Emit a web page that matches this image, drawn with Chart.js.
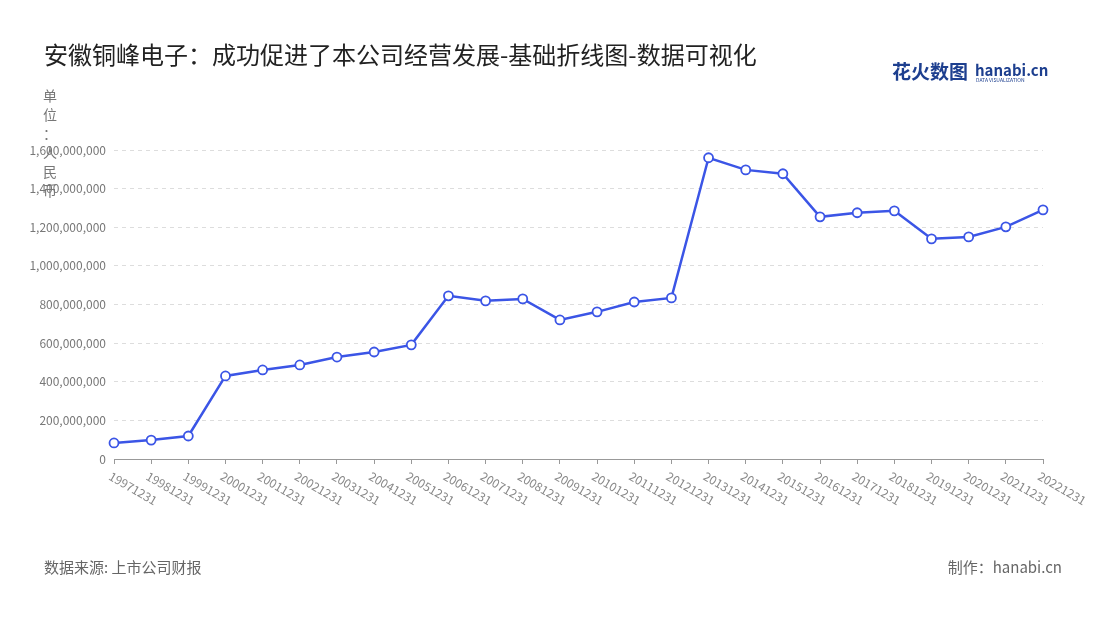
<!DOCTYPE html>
<html><head><meta charset="utf-8">
<script src="https://cdn.jsdelivr.net/npm/chart.js@4"></script>
<style>body{margin:0;background:#fff}#w{width:1100px;height:620px;position:relative}</style>
</head><body><div id="w"><canvas id="c" width="1100" height="620"></canvas></div>
<script>
const categories=['19971231','19981231','19991231','20001231','20011231','20021231','20031231','20041231','20051231','20061231','20071231','20081231','20091231','20101231','20111231','20121231','20131231','20141231','20151231','20161231','20171231','20181231','20191231','20201231','20211231','20221231'];
const values=[83e6,98e6,119e6,430e6,461e6,487e6,528e6,554e6,591e6,845e6,819e6,829e6,720e6,762e6,813e6,834e6,1560e6,1497e6,1477e6,1254e6,1275e6,1285e6,1140e6,1150e6,1202e6,1290e6];
const yTicks=[0,2e8,4e8,6e8,8e8,1e9,1.2e9,1.4e9,1.6e9];
const F='"Noto Sans CJK SC","Noto Sans",sans-serif';
const deco={id:'deco',afterDraw(ch){
 const c=ch.ctx,x=ch.scales.x,y=ch.scales.y;c.save();
 c.fillStyle='#222';c.font='24px '+F;c.textBaseline='middle';c.textAlign='left';
 c.fillText('安徽铜峰电子：成功促进了本公司经营发展-基础折线图-数据可视化',44,55);
 c.fillStyle='#1d3f8f';c.font='bold 19px '+F;c.fillText('花火数图',892,72);
 c.font='bold 15px '+F;c.fillText('hanabi.cn',975,70);
 c.font='5px '+F;c.fillText('DATA VISUALIZATION',976,80);
 c.fillStyle='#777';c.font='14px '+F;c.textAlign='center';
 ['单','位','：','人','民','币'].forEach((t,i)=>c.fillText(t,50,96+i*19));
 c.textAlign='left';c.font='15px '+F;c.fillStyle='#666';
 c.fillText('数据来源: 上市公司财报',44,567);c.textAlign='right';c.fillText('制作：hanabi.cn',1062,567);
 c.fillStyle='#888';c.font='12px '+F;c.textAlign='left';
 categories.forEach((t,i)=>{const px=x.getPixelForValue(i);c.save();c.translate(px-4,y.bottom+16);c.rotate(Math.PI/6);c.fillText(t,0,0);c.restore();});
 c.restore();}};
new Chart(document.getElementById('c'),{type:'line',
 data:{labels:categories,datasets:[{data:values,borderColor:'#3b55e6',borderWidth:2.5,pointBackgroundColor:'#fff',pointBorderColor:'#3b55e6',pointBorderWidth:1.8,pointRadius:4.5,tension:0}]},
 options:{responsive:false,animation:false,layout:{padding:{left:0,right:57,top:150,bottom:161}},
  plugins:{legend:{display:false},tooltip:{enabled:false}},
  scales:{x:{offset:false,grid:{display:true,drawOnChartArea:false,tickLength:5,color:'#999'},border:{color:'#999'},ticks:{display:false},afterFit(s){s.height=0;}},
   y:{min:0,max:1.6e9,afterBuildTicks(s){s.ticks=yTicks.map(v=>({value:v}));},afterFit(s){s.width=114;},
    border:{display:false,dash:[4,4]},grid:{color:'#ddd',drawTicks:false},
    ticks:{color:'#777',font:{size:12,family:F},padding:8,callback:v=>v.toLocaleString('en-US')}}}},
 plugins:[deco]});
</script></body></html>
